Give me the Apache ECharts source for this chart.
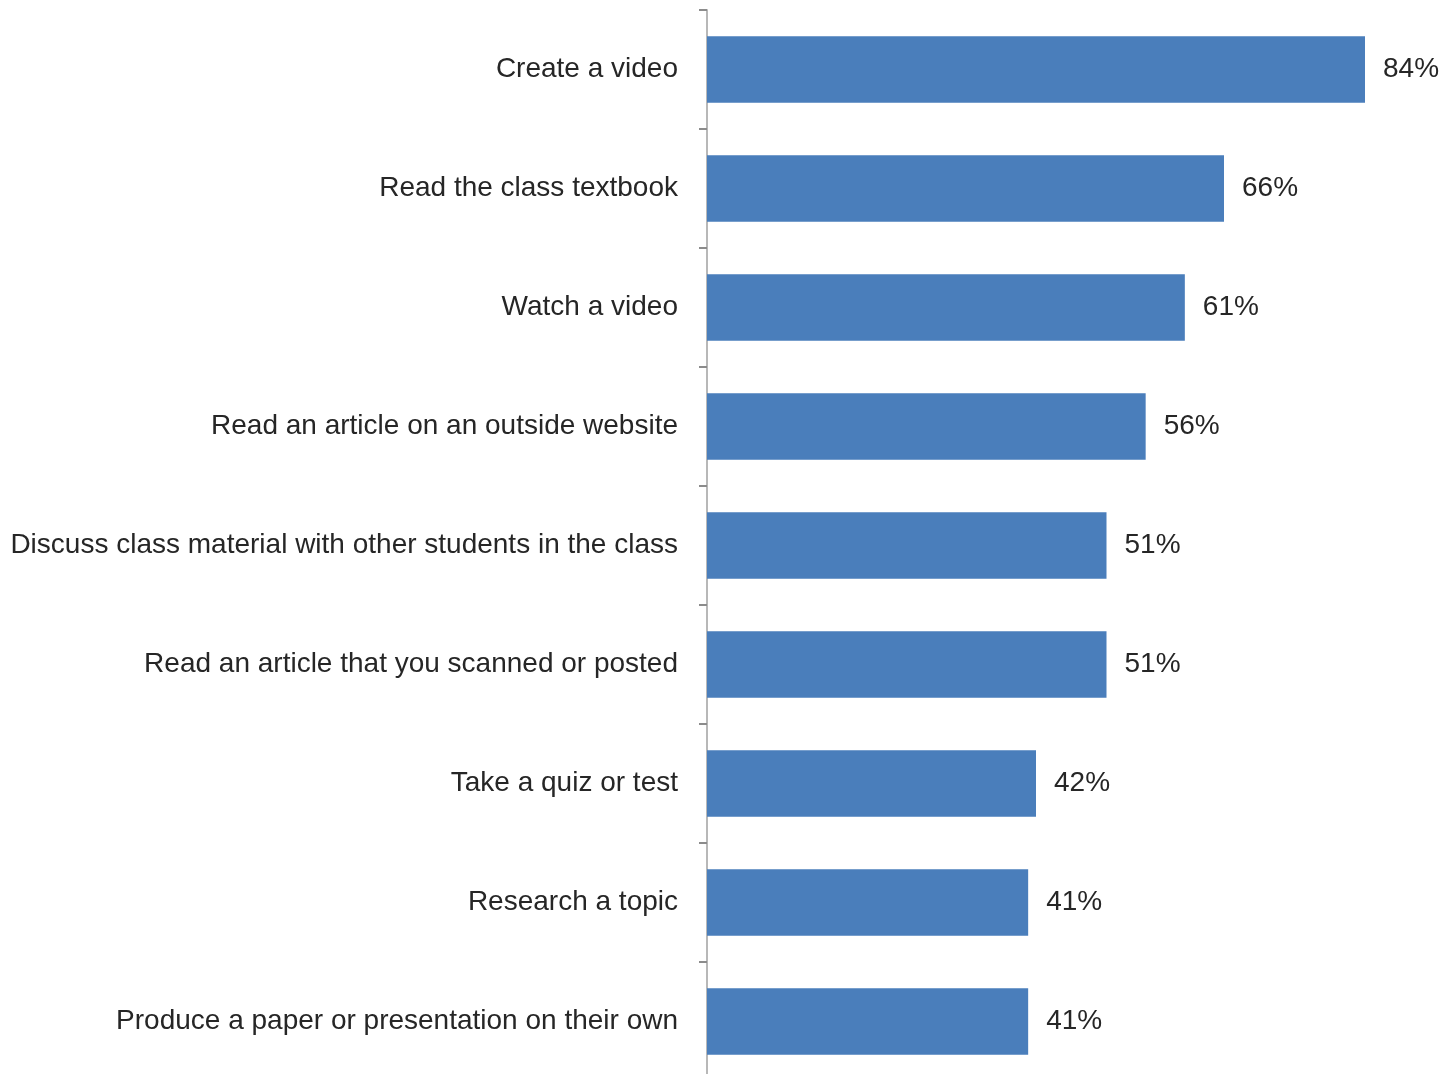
<!DOCTYPE html>
<html>
<head>
<meta charset="utf-8">
<script src="https://cdn.jsdelivr.net/npm/echarts@6/dist/echarts.min.js"></script>
<style>html,body{margin:0;padding:0;background:#fff}#c{width:1443px;height:1074px}</style>
</head>
<body>
<div id="c"></div>
<script>
const categories = [
  "Create a video",
  "Read the class textbook",
  "Watch a video",
  "Read an article on an outside website",
  "Discuss class material with other students in the class",
  "Read an article that you scanned or posted",
  "Take a quiz or test",
  "Research a topic",
  "Produce a paper or presentation on their own"
];
const values = [84, 66, 61, 56, 51, 51, 42, 41, 41];

const chart = echarts.init(document.getElementById('c'), null, {renderer: 'canvas'});
chart.setOption({
  animation: false,
  grid: {left: 707, top: 10, width: 705, bottom: -7, containLabel: false, outerBoundsMode: 'none'},
  xAxis: {
    type: 'value', min: 0, max: 90, show: false
  },
  yAxis: {
    type: 'category', data: categories, inverse: true,
    axisLine: {show: true, lineStyle: {color: '#b8b8b8', width: 2}},
    axisTick: {show: true, length: 8, lineStyle: {color: '#8c8c8c', width: 2}},
    axisLabel: {
      margin: 29, color: '#262626',
      fontFamily: '"Liberation Sans", Arial, sans-serif',
      fontSize: 28, padding: [8, 0, 0, 0]
    }
  },
  series: [{
    type: 'bar', data: values, barCategoryGap: '44%',
    itemStyle: {color: '#4A7EBB'},
    label: {
      show: true, position: 'right', distance: 18,
      formatter: '{c}%', color: '#262626',
      fontFamily: '"Liberation Sans", Arial, sans-serif',
      fontSize: 28, padding: [8, 0, 0, 0]
    }
  }]
});
</script>
</body>
</html>
